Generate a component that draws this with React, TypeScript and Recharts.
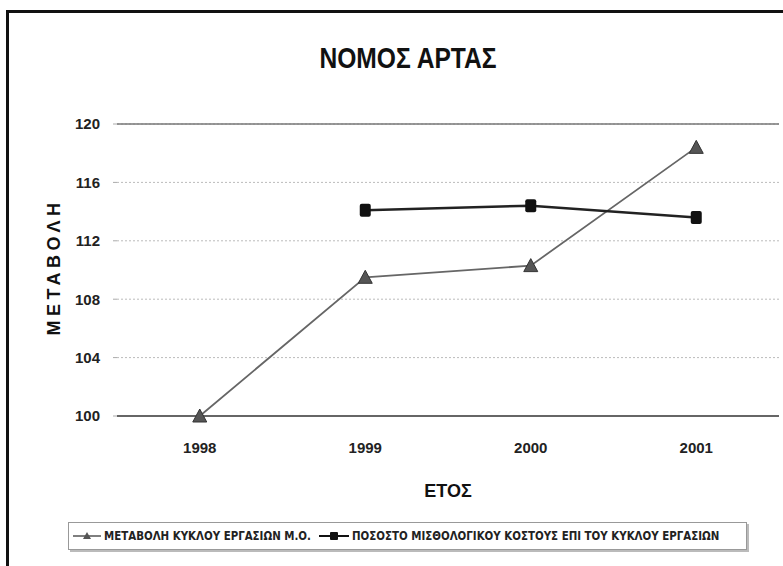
import React from "react";
import { LineChart, Line, XAxis, YAxis, CartesianGrid, ReferenceLine } from "recharts";

const years = ["1998", "1999", "2000", "2001"];
const turnoverChange = [100, 109.5, 110.3, 118.4];
const payrollShare = [null, 114.1, 114.4, 113.6];
const yTicks = [100, 104, 108, 112, 116, 120];
const seriesNames = [
  "ΜΕΤΑΒΟΛΗ ΚΥΚΛΟΥ ΕΡΓΑΣΙΩΝ Μ.Ο.",
  "ΠΟΣΟΣΤΟ ΜΙΣΘΟΛΟΓΙΚΟΥ ΚΟΣΤΟΥΣ ΕΠΙ ΤΟΥ ΚΥΚΛΟΥ ΕΡΓΑΣΙΩΝ",
];

const data = years.map((year, i) => ({
  year,
  turnover: turnoverChange[i],
  payroll: payrollShare[i],
}));

const narrow = "'Liberation Sans Narrow', 'DejaVu Sans Condensed', 'Liberation Sans', sans-serif";
const sans = "'Liberation Sans', Arial, sans-serif";

const Triangle = (props: any) => {
  const { cx, cy } = props;
  if (cx == null || cy == null) return null;
  return <polygon points={`${cx},${cy - 7} ${cx + 7},${cy + 6} ${cx - 7},${cy + 6}`} fill="#555" stroke="#333" strokeWidth={1} />;
};

const Square = (props: any) => {
  const { cx, cy, value } = props;
  if (cx == null || cy == null || value == null) return null;
  return <rect x={cx - 5.5} y={cy - 6.5} width={11} height={13} rx={2} fill="#111" />;
};

function LegendBox() {
  return (
    <div
      style={{
        position: "absolute",
        left: 68,
        top: 522,
        width: 673,
        height: 26,
        border: "1px solid #999",
        boxShadow: "2px 2px 0 #bbb",
        display: "flex",
        alignItems: "center",
        gap: 8,
        paddingLeft: 4,
        fontFamily: narrow,
        fontWeight: "bold",
        fontSize: 11.4,
        color: "#222",
        whiteSpace: "nowrap",
        background: "#fff",
      }}
    >
      <span style={{ display: "flex", alignItems: "center", gap: 3 }}>
        <svg width={28} height={10}>
          <line x1={0} y1={5} x2={28} y2={5} stroke="#555" strokeWidth={1.5} />
          <polygon points="14,1 18,8 10,8" fill="#555" />
        </svg>
        {seriesNames[0]}
      </span>
      <span style={{ display: "flex", alignItems: "center", gap: 3 }}>
        <svg width={30} height={10}>
          <line x1={0} y1={5} x2={30} y2={5} stroke="#111" strokeWidth={2} />
          <rect x={11} y={1} width={8} height={8} rx={1} fill="#111" />
        </svg>
        {seriesNames[1]}
      </span>
    </div>
  );
}

export default function App() {
  return (
    <div style={{ position: "absolute", left: 0, top: 0, width: 783, height: 566, overflow: "hidden", background: "#fff" }}>
      <div
        style={{
          position: "absolute",
          left: 6,
          top: 10,
          width: 900,
          height: 700,
          border: "3px solid #111",
        }}
      />
      <LineChart
        width={783}
        height={566}
        data={data}
        margin={{ top: 124, right: 4, bottom: 120, left: 0 }}
        style={{ position: "absolute", left: 0, top: 0 }}
      >
        <CartesianGrid horizontal vertical={false} stroke="#bbb" strokeDasharray="2 2" />
        <ReferenceLine y={120} stroke="#777" strokeWidth={1.5} />
        <XAxis
          dataKey="year"
          scale="band"
          height={30}
          tickLine={false}
          tickSize={0}
          tickMargin={26}
          axisLine={{ stroke: "#666", strokeWidth: 2 }}
          tick={{ fontFamily: sans, fontWeight: "bold", fontSize: 15, fill: "#222" }}
        />
        <YAxis
          width={117}
          domain={[100, 120]}
          ticks={yTicks}
          interval={0}
          axisLine={false}
          tickSize={4}
          tickMargin={13}
          tickLine={{ stroke: "#aaa" }}
          tick={{ fontFamily: sans, fontWeight: "bold", fontSize: 15, fill: "#222" }}
        />
        <YAxis
          yAxisId="r"
          orientation="right"
          width={0}
          domain={[100, 120]}
          tick={false}
          tickLine={false}
          axisLine={{ stroke: "#aaa" }}
        />
        <Line
          dataKey="turnover"
          name={seriesNames[0]}
          stroke="#666"
          strokeWidth={1.8}
          dot={<Triangle />}
          isAnimationActive={false}
        />
        <Line
          dataKey="payroll"
          name={seriesNames[1]}
          stroke="#222"
          strokeWidth={2.5}
          dot={<Square />}
          isAnimationActive={false}
        />
      </LineChart>
      <div
        style={{
          position: "absolute",
          left: 408,
          top: 58,
          transform: "translate(-50%, -50%) scaleX(0.82)",
          fontFamily: sans,
          fontWeight: "bold",
          fontSize: 30,
          color: "#111",
          whiteSpace: "nowrap",
        }}
      >
        ΝΟΜΟΣ ΑΡΤΑΣ
      </div>
      <div
        style={{
          position: "absolute",
          left: 54,
          top: 267,
          transform: "translate(-50%, -50%) rotate(-90deg)",
          fontFamily: sans,
          fontWeight: "bold",
          fontSize: 18,
          letterSpacing: 4.5,
          color: "#111",
          whiteSpace: "nowrap",
        }}
      >
        ΜΕΤΑΒΟΛΗ
      </div>
      <div
        style={{
          position: "absolute",
          left: 448,
          top: 491,
          transform: "translate(-50%, -50%)",
          fontFamily: sans,
          fontWeight: "bold",
          fontSize: 18,
          color: "#111",
        }}
      >
        ΕΤΟΣ
      </div>
      <LegendBox />
    </div>
  );
}
